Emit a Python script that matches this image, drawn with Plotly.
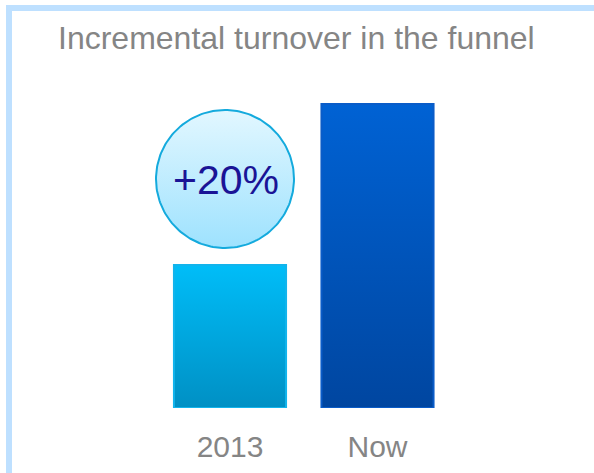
import numpy as np
import plotly.graph_objects as go

# ---- data ----
categories = ["2013", "Now"]
values = [47, 100]
badge_text = "+20%"
title_text = "Incremental turnover in the funnel"

# ---- styles ----
bar_top_colors = ["#00BDF8", "#0062D4"]
bar_bottom_colors = ["#0090C4", "#0046A0"]
bar_line_colors = ["#12B4EC", "#0A5CC8"]
bar_width = 0.76

W, H = 594, 473
plot_bottom = 408
fig = go.Figure()

xpos = list(range(len(categories)))
for i, (cat, v) in enumerate(zip(categories, values)):
    x0, x1 = xpos[i] - bar_width / 2, xpos[i] + bar_width / 2
    fig.add_trace(go.Scatter(
        x=[x0, x1, x1, x0, x0], y=[0, 0, v, v, 0],
        mode="lines", fill="toself",
        line=dict(color=bar_line_colors[i], width=2),
        fillgradient=dict(type="vertical",
                          colorscale=[[0, bar_bottom_colors[i]], [1, bar_top_colors[i]]]),
        name=cat, showlegend=False, hoverinfo="skip",
    ))

# badge circle on secondary pixel-like axes
cx, cy, r = 225, 179, 69
t = np.linspace(0, 2 * np.pi, 181)
fig.add_trace(go.Scatter(
    x=cx + r * np.cos(t), y=(H - cy) + r * np.sin(t),
    xaxis="x2", yaxis="y2", mode="lines", fill="toself",
    line=dict(color="#14AADD", width=2),
    fillgradient=dict(type="vertical",
                      colorscale=[[0, "#9EE2FE"], [1, "#E2F7FF"]]),
    showlegend=False, hoverinfo="skip",
))
fig.add_trace(go.Scatter(
    x=[cx + 1], y=[H - cy - 5], xaxis="x2", yaxis="y2", mode="text",
    text=[badge_text], textfont=dict(family="Liberation Sans, Arial", size=41, color="#1A1496"),
    showlegend=False, hoverinfo="skip",
))

px_per_unit_x = 147.5
x_center0 = 230
px_per_unit_y = 3.04

fig.update_layout(
    width=W, height=H,
    margin=dict(l=0, r=0, t=0, b=H - plot_bottom),
    paper_bgcolor="white", plot_bgcolor="white",
    xaxis=dict(range=[-x_center0 / px_per_unit_x, (W - x_center0) / px_per_unit_x],
               tickvals=xpos, ticktext=categories, showgrid=False, zeroline=False,
               showline=False, ticks="outside", ticklen=12, tickcolor="rgba(0,0,0,0)",
               tickfont=dict(family="Liberation Sans, Arial", size=30, color="#858585"),
               fixedrange=True),
    yaxis=dict(range=[0, plot_bottom / px_per_unit_y], visible=False, fixedrange=True),
    xaxis2=dict(range=[0, W], overlaying="x", visible=False, fixedrange=True),
    yaxis2=dict(range=[H - plot_bottom, H], overlaying="y", visible=False, fixedrange=True),
    annotations=[dict(text=title_text, xref="paper", yref="paper",
                      x=296 / W, y=(plot_bottom - 38) / plot_bottom,
                      xanchor="center", yanchor="middle", showarrow=False,
                      font=dict(family="Liberation Sans, Arial", size=32, color="#858585"))],
    shapes=[
        dict(type="line", xref="paper", yref="paper", x0=9 / W, x1=9 / W,
             y0=(plot_bottom - 5) / plot_bottom, y1=(plot_bottom - H) / plot_bottom,
             line=dict(color="#BEE0FF", width=6)),
        dict(type="line", xref="paper", yref="paper", x0=6 / W, x1=1,
             y0=(plot_bottom - 8) / plot_bottom, y1=(plot_bottom - 8) / plot_bottom,
             line=dict(color="#BEE0FF", width=6)),
    ],
)

fig.write_html("out.html")
